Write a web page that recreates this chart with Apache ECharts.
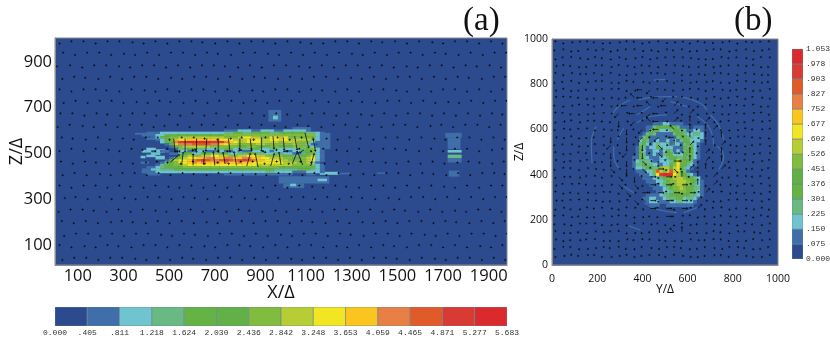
<!DOCTYPE html>
<html>
<head>
    <meta charset="utf-8">
    <title>Contours</title>
    <style>
        html, body { margin: 0; background: #fff; }
        #chart { width: 830px; height: 348px; }
        #chart canvas { filter: blur(0.7px); }
    </style>
    <script src="https://cdn.jsdelivr.net/npm/echarts@6/dist/echarts.min.js"></script>
</head>
<body>
<div id="chart"></div>
<script type="text/javascript">
    // contour level colours, same for both panels
    var levelColors = ['#2c4b8e', '#3f6ea8', '#70c4cf', '#69b983', '#66b345', '#62b048', '#82bc3f',
        '#b6cd35', '#f2e624', '#f9c51e', '#e87f45', '#e15a2a', '#d93a34', '#da2a2e'];

    var ticksAX = [100, 300, 500, 700, 900, 1100, 1300, 1500, 1700, 1900];
    var ticksAZ = [100, 300, 500, 700, 900];
    var ticksB = [0, 200, 400, 600, 800, 1000];

    var barValuesA = [0, 0.405, 0.811, 1.218, 1.624, 2.030, 2.436, 2.842, 3.248, 3.653, 4.059, 4.465, 4.871, 5.277, 5.683];
    var barLabelsA = ['0.000', '.405', '.811', '1.218', '1.624', '2.030', '2.436', '2.842', '3.248', '3.653', '4.059', '4.465', '4.871', '5.277', '5.683'];
    var barValuesB = [0, 0.075, 0.150, 0.225, 0.301, 0.376, 0.451, 0.526, 0.602, 0.677, 0.752, 0.827, 0.903, 0.978, 1.053];
    var barLabelsB = ['0.000', '.075', '.150', '.225', '.301', '.376', '.451', '.526', '.602', '.677', '.752', '.827', '.903', '.978', '1.053'];

    // panel a field: contour level per cell (hex digit), x = 340, 360, ... per char
    var fieldAZ = [610, 600, 590, 580, 570, 560, 550, 540, 530, 520, 510, 500, 490, 480, 470, 460, 450, 440, 430, 420, 410];
    var fieldARows = [
        '00000000000000000000000000000000000011',
        '000000000000000000001112221122211222221',
        '000111222222222222223344334444334444443321',
        '001112244444444444446666666666666666666621',
        '000012446677777777776667887766887866666621',
        '000001246788999999988877789877889877777621',
        '000000244accdddddccca98778887777677766621',
        '0000000149aaabbbbaa987766667766666676621',
        '00000000146777777666666446644466444666621',
        '000220000133443322334422334422332222334621',
        '002200110022112211221122112222122112244621',
        '000022001134422443344223344332233221134621',
        '000220000046766778877667788776666443346721',
        '0000000014678899aa99aa99aa9988777664467821',
        '0000000147889abcbaabcbabcba998887766667821',
        '0000001346889a9a99a9a99a99888888877766721',
        '000001344667888888888888888777777776666621',
        '000112344446666666666666666666664444444421',
        '001122333444444444444444444444433333444321',
        '001112222222222222222222222223322221112221',
        '0001110000000000000011111111111111100011'
    ];
    var fieldAStartX = 340;
    var fieldAStepX = 20;
    var fieldAStepZ = 10;

    // loose patches outside the main body of panel a: x0, x1, z0, z1, level
    var patchesA = [
        [935, 990, 640, 690, 1], [955, 975, 650, 665, 2], [1040, 1120, 600, 615, 1],
        [350, 420, 583, 590, 1], [400, 450, 560, 570, 1], [440, 480, 505, 518, 2], [375, 395, 480, 490, 2],
        [440, 480, 475, 490, 2], [375, 410, 455, 465, 1], [980, 1200, 370, 400, 1], [1000, 1090, 350, 370, 1],
        [1030, 1055, 358, 368, 2], [1150, 1190, 380, 390, 2], [1160, 1240, 408, 420, 2], [1240, 1290, 410, 416, 1],
        [1150, 1205, 520, 590, 1], [1410, 1445, 412, 417, 1], [1710, 1780, 570, 590, 1], [1720, 1775, 520, 570, 1],
        [1720, 1780, 505, 515, 2], [1720, 1780, 480, 495, 3], [1720, 1780, 462, 480, 1], [1725, 1770, 400, 425, 1]
    ];

    // panel b field: Y = 340, 355, ... per char
    var fieldBZ = [625, 610, 595, 580, 565, 550, 535, 520, 505, 490, 475, 460, 445, 430, 415, 400, 385, 370, 355, 340, 325, 310, 295, 280, 265];
    var fieldBRows = [
        '00000001112211110000000',
        '00000113444444311101110',
        '00000134422234433112210',
        '00001343111113443223320',
        '00013411111111344332220',
        '00024311211212134422210',
        '00034212322312213432100',
        '00143122432221114342100',
        '00142112212431213442100',
        '00143112113442224442100',
        '01143211122345334342100',
        '01233321122235864431000',
        '01334332212246844321000',
        '01223443367747843210000',
        '00111226b767b7843100000',
        '000111238cddc8764321000',
        '00001112234667776443200',
        '00000111223466777644210',
        '00000011123446776643210',
        '00000001112346676443310',
        '00000000112234666443210',
        '00000111123344444433210',
        '00001122112333442332100',
        '00000122211122332221000',
        '00000011100111111110000'
    ];
    var fieldBStartY = 340;
    var fieldBStep = 15;

    // faint rings in panel b, each a list of [Y, Z]
    var ringsB = [
        [[196, 613], [174, 540], [177, 452]],
        [[265, 664], [295, 701], [347, 730]],
        [[383, 730], [435, 742], [509, 745], [553, 745]],
        [[568, 745], [656, 716], [686, 686]],
        [[701, 664], [737, 620], [760, 554]],
        [[376, 664], [435, 701]],
        [[524, 723], [597, 701]],
        [[730, 525], [760, 481], [737, 422]],
        [[273, 525], [273, 481], [302, 422]],
        [[317, 606], [288, 554]],
        [[339, 173], [391, 155]],
        [[450, 818], [501, 821]],
        [[361, 320], [317, 349]],
        [[406, 276], [465, 246], [553, 232]],
        [[583, 232], [642, 254]],
        [[376, 628], [435, 657], [509, 664]],
        [[642, 657], [701, 598], [715, 525]]
    ];

    // velocity arrows, panel a: lattice + direction letter per point
    var arrowAX = [20, 72, 125, 178, 230, 282, 335, 388, 440, 492, 545, 598, 650, 702, 755, 808, 860, 912, 965,
        1018, 1070, 1122, 1175, 1228, 1280, 1332, 1385, 1438, 1490, 1542, 1595, 1648, 1700, 1752, 1805, 1858, 1910, 1960];
    var arrowAZ = [985, 935, 880, 830, 775, 725, 670, 620, 565, 515, 460, 410, 355, 305, 250, 200, 145, 95, 40];
    var arrowAShift = [0, 16, -6, 12, 0, 18, 4, -8, 10, 0, 6, 14, 0, 18, -4, 10, 20, 0, 12];
    var arrowARows = [
        'snnsnnesnsnnwsnsnnsnessnnsnwnsnesnnsns',
        'nsnnsesnsnnsnwsnnesnsnsnesnsnnsnwsnsnn',
        'wnsnnesnnsnsnnwsnsnnesnsnnsnsesnnsnwns',
        'snwsnsnnsesnnsnsnwsnsnnsesnsnnsnsnwsnn',
        'nsnnwsnesnsnnsnsesnnsnwsnsnnesnsnnsnsn',
        'snsnnsesnwsnsnnsnsnnsnesnwsnnsnsesnsnn',
        'nnsnwsnnsesnsnsnnsnwsnnsnesnsnnsnsnsnw',
        'snesnsnnswnsnnsnsnesnwsnnsnsnnsensnnsn',
        'nwsnsesnnsnnwsensnnsnsesnwsnnsnesnnsns',
        'snsnesnwsnsesnsnnsesnsnesnsnnwsnsnnsen',
        'nsnwsnsenwsnsesnnsnsnwsnsnnesnsnsenwsn',
        'snsesnnsnsnwsnnsesnwsnsnsesnnsnwsnsnnw',
        'nsnnsnwsnesnsnsnnsnsnesnwsnnsnsnesnsnn',
        'ensnsesnnsnwsnnesnsnnsnsnwsesnnsnsnsnn',
        'snnwsnsnesnnsnsnwsesnnsnnsnsnwsnsesnns',
        'nsnsenwsnsnsesnnsnnsnwsnsesnsnnsnwsnsn',
        'snnsnsnnesnwsnnsnsesnnsnwsnnsnesnsnnsn',
        'nsesnwsnnsnsesnnwsnsnnsesnsnwsnnsnsesn',
        'snnsnnesnsnwsnnsnsnesnnsnsnnwsnesnnsns'
    ];
    // the long arrows inside the jet: x, z, dx, dz
    var longArrowsA = [
        [520, 565, 6, -55], [570, 565, 0, -55], [620, 565, 0, -55], [665, 565, -4, -50], [715, 565, 0, -50],
        [760, 565, 6, -55], [810, 565, 0, -50], [855, 565, 6, -50], [905, 570, 0, -55], [955, 575, 4, -50],
        [1000, 570, 4, -50], [1050, 575, 10, -55], [1095, 590, 15, -60], [1130, 570, 10, -55],
        [505, 462, 36, 30], [555, 450, 6, 50], [605, 448, 0, 45], [650, 450, 6, 50], [700, 448, -6, 55],
        [745, 455, -8, 45], [795, 448, -10, 55], [840, 445, 14, 50], [890, 440, -12, 55], [945, 445, 14, 50],
        [990, 450, -8, 50], [1040, 455, 20, 50], [1085, 450, -20, 50], [1120, 445, 14, 50], [520, 520, 14, -10],
        [600, 510, 12, 6], [700, 512, 14, -4], [800, 510, 14, 4], [905, 512, 14, -6], [1000, 508, 14, 2], [1090, 515, -14, -8]
    ];
    var arrowLenA = 3;

    // panel b lattice, capitals are the longer arrows of the swirl
    var arrowBY = [15, 50, 85, 120, 155, 190, 225, 260, 295, 330, 365, 400, 435, 470, 505, 540, 575, 610, 645, 680, 715, 750, 785, 820, 855, 890, 925, 960];
    var arrowBZ = [985, 950, 915, 880, 845, 810, 775, 740, 705, 670, 635, 600, 565, 530, 495, 460, 425, 390, 355, 320, 285, 250, 215, 180, 145, 110, 75, 40];
    var arrowBRows = [
        'nseanwsdenbswnceasnwdensawbn',
        'wnsdaenswbncesawnsdenbswacen',
        'sbnecnwsadenswbnaecsdnwbesna',
        'enwsdabcnesbwsnaedcnswbaensd',
        'nsaewbdncsenabwnscedabwsnecd',
        'dwnseabcsnwedbasncwebdsnaecw',
        'cnsdwebanscWDbwdenasbecwnsda',
        'anbwsdceswBWaWDbnescadwnsbec',
        'wsenadbcwWdWBsWAbdsnecabwnsd',
        'nbdscwaeDaWbDWnAsAsencdbwans',
        'sencabwdSeDnBWeAbNcAcwbsdnea',
        'dawbnsecdSwDsWcBsNwNAdscnwea',
        'ecnsdwaSnSeDwDnWaNcNbNcabwds',
        'wbascneDwSbSnCeNwAsNeAedswbc',
        'nsdbwecSeDsSwCnEaNwAbNabscwe',
        'acwensdSwSnCeSbEwNsAdNdwbsen',
        'dnbsaecCeSwCnEsCwAnNbAnsewcb',
        'sewcbndaCnSbEsEeNwNaAcdnawbs',
        'cbanwsdeCwCsEnEbEaNsAwesbdnc',
        'nswdecabsCeEwEnEsEaAbncwdesa',
        'ewbnaesdcaCnEsEwEeAesdbnawcn',
        'sadcnwbesnacEbEsEaAdbnswecas',
        'bncwsdaenbscwdEwanswcbedasnw',
        'wesabndcwsnaebdsncwaedbsnwca',
        'ncdwsaebnscdwaeBNsdcnwsabedn',
        'aswebncdsawnbedcsaewnbdscnea',
        'dnbsceawndsbecanwsdbecnawsdb',
        'senwabdcenswbadnecswabdnesca'
    ];
    var arrowLenB = 3;
    var arrowLongB = 20;

    var dirVectors = { n: [0, 1], s: [0, -1], e: [1, 0], w: [-1, 0], a: [0.7, 0.7], b: [-0.7, 0.7], c: [0.7, -0.7], d: [-0.7, -0.7] };

    function fieldCells(rows, zs, startX, stepX, stepZ) {
        var cells = [];
        rows.forEach(function (row, i) {
            for (var k = 0; k < row.length; k++) {
                var level = parseInt(row.charAt(k), 16);
                if (level > 0) {
                    cells.push([startX + k * stepX, startX + (k + 1) * stepX, zs[i] - stepZ / 2, zs[i] + stepZ / 2, level]);
                }
            }
        });
        return cells;
    }

    function latticeArrows(rows, xs, zs, shifts, shortLen, longLen) {
        var list = [];
        rows.forEach(function (row, i) {
            for (var k = 0; k < row.length && k < xs.length; k++) {
                var ch = row.charAt(k);
                var vec = dirVectors[ch.toLowerCase()];
                var len = ch === ch.toLowerCase() ? shortLen : longLen;
                list.push([xs[k] + (shifts ? shifts[i] : 0), zs[i], vec[0] * len, vec[1] * len]);
            }
        });
        return list;
    }

    function barCells(values) {
        return values.slice(1).map(function (v, i) {
            return [values[i], v, 0, 1, i];
        });
    }

    function renderRect(params, api) {
        var a = api.coord([api.value(0), api.value(3)]);
        var b = api.coord([api.value(1), api.value(2)]);
        return {
            type: 'rect',
            shape: { x: a[0], y: a[1], width: b[0] - a[0] + 0.3, height: b[1] - a[1] + 0.3 },
            style: { fill: levelColors[api.value(4)] }
        };
    }

    function renderBarCell(params, api) {
        var a = api.coord([api.value(0), 1]);
        var b = api.coord([api.value(1), 0]);
        return {
            type: 'rect',
            shape: { x: a[0], y: a[1], width: b[0] - a[0], height: b[1] - a[1] },
            style: { fill: levelColors[api.value(4)], stroke: '#6d8590', lineWidth: 0.6 }
        };
    }

    function renderBarCellV(params, api) {
        var a = api.coord([0, api.value(1)]);
        var b = api.coord([1, api.value(0)]);
        return {
            type: 'rect',
            shape: { x: a[0], y: a[1], width: b[0] - a[0], height: b[1] - a[1] },
            style: { fill: levelColors[api.value(4)], stroke: '#6d8590', lineWidth: 0.6 }
        };
    }

    function renderArrow(params, api) {
        var p0 = api.coord([api.value(0), api.value(1)]);
        var p1 = api.coord([api.value(0) + api.value(2), api.value(1) + api.value(3)]);
        var dx = p1[0] - p0[0], dy = p1[1] - p0[1];
        var len = Math.sqrt(dx * dx + dy * dy) || 1;
        var ux = dx / len, uy = dy / len;
        return {
            type: 'group',
            children: [{
                type: 'line',
                shape: { x1: p0[0], y1: p0[1], x2: p1[0], y2: p1[1] },
                style: { stroke: '#0d0d0d', lineWidth: 0.8 }
            }, {
                type: 'polygon',
                shape: {
                    points: [
                        [p1[0] + ux * 1.7, p1[1] + uy * 1.7],
                        [p1[0] - uy * 1.4, p1[1] + ux * 1.4],
                        [p1[0] + uy * 1.4, p1[1] - ux * 1.4]
                    ]
                },
                style: { fill: '#0d0d0d' }
            }]
        };
    }

    function customSeries(axisIndex, render, data) {
        return {
            type: 'custom',
            xAxisIndex: axisIndex,
            yAxisIndex: axisIndex,
            renderItem: render,
            data: data,
            clip: true,
            silent: true,
            animation: false,
            progressive: 0
        };
    }

    function plotAxis(name, min, max, ticks, fontSize, margin, nameGap, extra) {
        var axis = {
            type: 'value',
            min: min,
            max: max,
            name: name,
            nameLocation: 'middle',
            nameGap: nameGap,
            nameMoveOverlap: false,
            nameTextStyle: { fontFamily: 'Open Sans', fontSize: fontSize + 1.5, color: '#111' },
            splitLine: { show: false },
            axisTick: { show: false },
            axisLine: { show: true, onZero: false, lineStyle: { color: '#8a8a8a', width: 1 } },
            axisLabel: {
                customValues: ticks, margin: margin, fontFamily: 'Open Sans', fontSize: fontSize, color: '#111',
                formatter: function (v) { return String(v); }
            }
        };
        return Object.assign(axis, extra || {});
    }

    function barAxisLabels(values, labels) {
        return {
            customValues: values,
            margin: 3,
            fontFamily: 'Liberation Mono',
            fontSize: 8,
            color: '#333',
            formatter: function (v) { return labels[values.indexOf(v)]; }
        };
    }

    var hiddenAxis = { type: 'value', min: 0, max: 1, show: false };

    var myChart = echarts.init(document.getElementById('chart'), null, { renderer: 'canvas' });
    myChart.setOption({
        animation: false,
        backgroundColor: '#fff',
        title: [
            { text: '(a)', left: 458, top: 0, textStyle: { fontFamily: 'Liberation Serif', fontSize: 33, fontWeight: 'normal', color: '#111' } },
            { text: '(b)', left: 729, top: 0, textStyle: { fontFamily: 'Liberation Serif', fontSize: 33, fontWeight: 'normal', color: '#111' } }
        ],
        grid: [
            { left: 55, top: 38, width: 452, height: 227, outerBoundsMode: 'none', show: true, backgroundColor: levelColors[0], borderColor: '#8a8a8a', borderWidth: 1 },
            { left: 552, top: 39, width: 226, height: 226, outerBoundsMode: 'none', show: true, backgroundColor: levelColors[0], borderColor: '#8a8a8a', borderWidth: 1 },
            { left: 55, top: 307, width: 452, height: 19, outerBoundsMode: 'none' },
            { left: 792, top: 49, width: 11, height: 210, outerBoundsMode: 'none' }
        ],
        xAxis: [
            plotAxis('X/\u0394', 0, 1980, ticksAX, 16.5, 3, 19, { gridIndex: 0 }),
            plotAxis('Y/\u0394', 0, 1000, ticksB, 10.5, 9, 19, { gridIndex: 1 }),
            {
                gridIndex: 2, type: 'value', min: 0, max: 5.683, position: 'bottom',
                splitLine: { show: false }, axisTick: { show: false }, axisLine: { show: false },
                axisLabel: barAxisLabels(barValuesA, barLabelsA)
            },
            Object.assign({ gridIndex: 3 }, hiddenAxis)
        ],
        yAxis: [
            plotAxis('Z/\u0394', 13, 1004, ticksAZ, 16.5, 3, 29, { gridIndex: 0 }),
            plotAxis('Z/\u0394', 0, 1000, ticksB, 10.5, 4, 26, { gridIndex: 1 }),
            Object.assign({ gridIndex: 2 }, hiddenAxis),
            {
                gridIndex: 3, type: 'value', min: 0, max: 1.053, position: 'right',
                splitLine: { show: false }, axisTick: { show: false }, axisLine: { show: false },
                axisLabel: barAxisLabels(barValuesB, barLabelsB)
            }
        ],
        series: [
            customSeries(0, renderRect, patchesA),
            customSeries(0, renderRect, fieldCells(fieldARows, fieldAZ, fieldAStartX, fieldAStepX, fieldAStepZ)),
            customSeries(0, renderArrow, latticeArrows(arrowARows, arrowAX, arrowAZ, arrowAShift, arrowLenA, arrowLenA)),
            customSeries(0, renderArrow, longArrowsA),
            customSeries(1, renderRect, fieldCells(fieldBRows, fieldBZ, fieldBStartY, fieldBStep, fieldBStep))
        ].concat(ringsB.map(function (ring) {
            return {
                type: 'line', xAxisIndex: 1, yAxisIndex: 1, data: ring, showSymbol: false, smooth: true,
                silent: true, animation: false, lineStyle: { color: '#3f6ea8', width: 1.2 }, z: 1
            };
        })).concat([
            customSeries(1, renderArrow, latticeArrows(arrowBRows, arrowBY, arrowBZ, null, arrowLenB, arrowLongB)),
            customSeries(2, renderBarCell, barCells(barValuesA)),
            customSeries(3, renderBarCellV, barCells(barValuesB))
        ])
    });
</script>
</body>
</html>
